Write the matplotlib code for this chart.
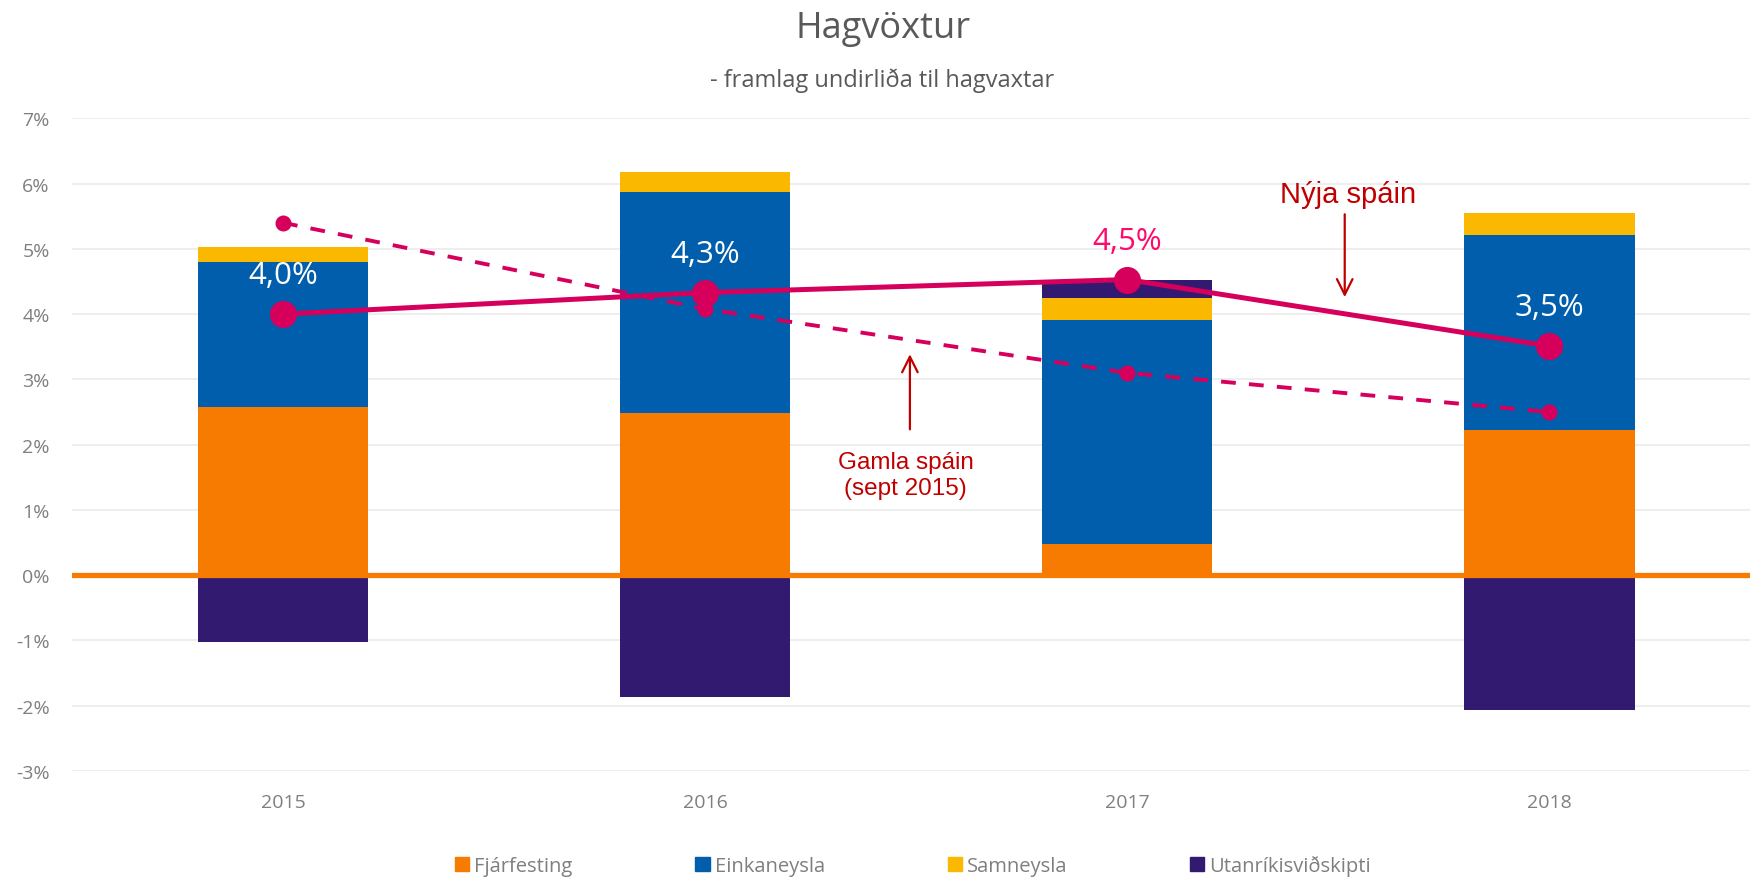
import numpy as np
import matplotlib
matplotlib.use("Agg")
import matplotlib.pyplot as plt
from matplotlib.patches import Patch

# Data (framlag til hagvaxtar, %)
years = ["2015", "2016", "2017", "2018"]
fjarfesting = [2.58, 2.48, 0.48, 2.22]
einkaneysla = [2.22, 3.39, 3.43, 3.00]
samneysla = [0.23, 0.31, 0.33, 0.33]
utanrikis = [-1.03, -1.86, 0.28, -2.06]
nyja_spain = [4.0, 4.33, 4.53, 3.51]
gamla_spain = [5.4, 4.08, 3.1, 2.5]
y_ticks = [-3, -2, -1, 0, 1, 2, 3, 4, 5, 6, 7]

# Colours
c_orange = "#F77B00"
c_blue = "#005EAC"
c_yellow = "#FAB800"
c_purple = "#331A71"
c_line = "#D6005C"
c_red = "#C00000"
c_gray = "#7F7F7F"

plt.rcParams["font.family"] = ["Open Sans", "DejaVu Sans"]

fig = plt.figure(figsize=(17.5, 8.78), dpi=100)
ax = fig.add_axes([0.0411, 0.1207, 0.9589, 0.7434])

x = np.arange(len(years))
w = 0.403

ax.bar(x, fjarfesting, w, color=c_orange, zorder=2)
b1 = np.array(fjarfesting)
ax.bar(x, einkaneysla, w, bottom=b1, color=c_blue, zorder=2)
b2 = b1 + np.array(einkaneysla)
ax.bar(x, samneysla, w, bottom=b2, color=c_yellow, zorder=2)
b3 = b2 + np.array(samneysla)
ut = np.array(utanrikis)
ax.bar(x, ut, w, bottom=np.where(ut > 0, b3, 0), color=c_purple, zorder=2)

# zero line
ax.axhline(0, color=c_orange, lw=3.8, zorder=3)

# forecasts
ax.plot(x, gamla_spain, color=c_line, lw=2.8, linestyle=(0, (3.8, 3.4)),
        marker="o", markersize=10.5, zorder=4)
ax.plot(x, nyja_spain, color=c_line, lw=3.6, marker="o", markersize=18.5,
        zorder=5)

label_colors = ["white", "white", "#FF0A6C", "white"]
for xi, v, lc in zip(x, nyja_spain, label_colors):
    ax.annotate(f"{v:.1f}%".replace(".", ","), (xi, v), xytext=(0, 28),
                textcoords="offset points", ha="center", va="center",
                fontsize=22.5, color=lc, zorder=6)

# annotations
ax.text(2.523, 5.84, "Nýja spáin", ha="center", va="center", fontsize=21,
        color=c_red, family=["Liberation Sans", "DejaVu Sans"])
ax.annotate("", xy=(2.515, 4.26), xytext=(2.515, 5.53),
            arrowprops=dict(arrowstyle="->", color=c_red, lw=1.6,
                            mutation_scale=28, shrinkA=0, shrinkB=0))
ax.text(1.475, 1.53, "Gamla spáin\n(sept 2015)", ha="center", va="center",
        fontsize=17.5, color=c_red, linespacing=1.25,
        family=["Liberation Sans", "DejaVu Sans"])
ax.annotate("", xy=(1.485, 3.386), xytext=(1.485, 2.235),
            arrowprops=dict(arrowstyle="->", color=c_red, lw=1.6,
                            mutation_scale=28, shrinkA=0, shrinkB=0))

ax.set_xlim(-0.5, 3.475)
ax.set_ylim(-3, 7)
ax.set_xticks(x)
ax.set_xticklabels(years)
ax.set_yticks(y_ticks)
ax.set_yticklabels([f"{t}%" for t in y_ticks])
ax.tick_params(axis="both", length=0, labelsize=14, labelcolor=c_gray)
ax.tick_params(axis="y", pad=16)
ax.tick_params(axis="x", pad=16)
ax.grid(axis="y", color="#EDEDED", lw=1.3, zorder=0)
ax.set_axisbelow(True)
for s in ax.spines.values():
    s.set_visible(False)

# titles
fig.text(0.5046, 1 - 38 / 878, "Hagvöxtur", ha="center", va="baseline",
         fontsize=26, color="#595959")
fig.text(0.504, 1 - 87 / 878, "- framlag undirliða til hagvaxtar",
         ha="center", va="baseline", fontsize=17, color="#595959")

handles = [Patch(color=c) for c in [c_orange, c_blue, c_yellow, c_purple]]
labels = ["Fjárfesting", "Einkaneysla", "Samneysla", "Utanríkisviðskipti"]
leg = fig.legend(handles, labels, loc="center", bbox_to_anchor=(913 / 1750, 1 - 867 / 878),
                 ncol=4, frameon=False, fontsize=14.5, handlelength=0.7,
                 handleheight=0.7, handletextpad=0.25, columnspacing=6.1)
for t in leg.get_texts():
    t.set_color(c_gray)

fig.savefig("out.png", dpi=100)
